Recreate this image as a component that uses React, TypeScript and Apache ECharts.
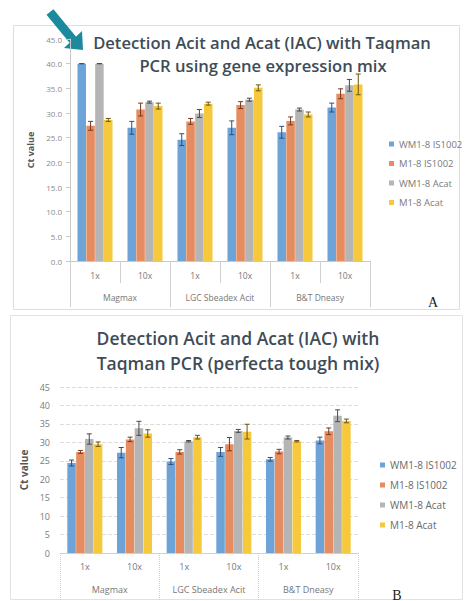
import React, { useEffect, useRef } from "react";
import * as echarts from "echarts";

const cats = ["1x", "10x", "1x", "10x", "1x", "10x"];
const groups = ["Magmax", "LGC Sbeadex Acit", "B&T Dneasy"];
const seriesNames = ["WM1-8 IS1002", "M1-8 IS1002", "WM1-8 Acat", "M1-8 Acat"];
const colors = ["#6ea3d8", "#e58c60", "#b5b5b5", "#f6c83c"];
const errColors = ["#2d4f7a", "#7a3a1c", "#4a4a4a", "#6e5410"];

const aTicks = [0, 5, 10, 15, 20, 25, 30, 35, 40, 45];
const bTicks = [0, 5, 10, 15, 20, 25, 30, 35, 40, 45];

// Chart A: gene expression mix
const aBlue = [40.0, 27.0, 24.6, 27.0, 26.1, 31.1];
const aBlueErr = [0, 1.3, 1.2, 1.4, 1.2, 0.9];
const aOrange = [27.4, 30.7, 28.3, 31.6, 28.4, 33.9];
const aOrangeErr = [0.9, 1.3, 0.6, 0.7, 0.8, 1.0];
const aGray = [40.0, 32.2, 29.9, 32.7, 30.7, 35.6];
const aGrayErr = [0, 0.2, 0.8, 0.3, 0.3, 1.2];
const aYellow = [28.6, 31.4, 31.9, 35.1, 29.7, 35.8];
const aYellowErr = [0.3, 0.6, 0.3, 0.6, 0.5, 2.1];

// Chart B: perfecta tough mix
const bBlue = [24.4, 27.2, 24.8, 27.4, 25.4, 30.5];
const bBlueErr = [0.8, 1.4, 0.8, 1.2, 0.5, 0.9];
const bOrange = [27.4, 30.8, 27.4, 29.5, 27.5, 33.0];
const bOrangeErr = [0.4, 0.6, 0.6, 1.8, 0.6, 0.9];
const bGray = [30.9, 33.8, 30.3, 33.1, 31.3, 37.2];
const bGrayErr = [1.4, 1.9, 0.2, 0.4, 0.4, 1.6];
const bYellow = [29.5, 32.4, 31.4, 32.9, 30.3, 35.8];
const bYellowErr = [0.6, 1.0, 0.5, 2.0, 0.2, 0.5];

const BAR_W = 8.5;
const BAR_GAP = 0.04;
const STEP = BAR_W * (1 + BAR_GAP);
const FONT = "'Open Sans', 'Noto Sans', sans-serif";

function barSeries(k: number, vals: number[], xIdx: number, yIdx: number) {
  return {
    type: "bar",
    name: seriesNames[k],
    xAxisIndex: xIdx,
    yAxisIndex: yIdx,
    data: vals,
    barWidth: BAR_W,
    barGap: BAR_GAP * 100 + "%",
    itemStyle: { color: colors[k] },
    silent: true,
  };
}

function errSeries(k: number, vals: number[], errs: number[], xIdx: number, yIdx: number, tag: string) {
  return {
    type: "custom",
    name: "err" + tag + k,
    xAxisIndex: xIdx,
    yAxisIndex: yIdx,
    z: 10,
    silent: true,
    encode: { x: 0, y: 1 },
    data: vals.map((v, i) => [i, v, errs[i]]),
    renderItem: (params: any, api: any) => {
      const i = api.value(0);
      const v = api.value(1);
      const e = api.value(2);
      const top = api.coord([i, v + e]);
      const bot = api.coord([i, v - e]);
      const x = top[0] + (k - 1.5) * STEP;
      const st = { stroke: errColors[k], lineWidth: 1 };
      return {
        type: "group",
        children: [
          { type: "line", shape: { x1: x, y1: top[1], x2: x, y2: bot[1] }, style: st },
          { type: "line", shape: { x1: x - 2.5, y1: top[1], x2: x + 2.5, y2: top[1] }, style: st },
          { type: "line", shape: { x1: x - 2.5, y1: bot[1], x2: x + 2.5, y2: bot[1] }, style: st },
        ],
      };
    },
  };
}

export default function App() {
  const ref = useRef<HTMLDivElement>(null);
  useEffect(() => {
    if (!ref.current) return;
    const chart = echarts.init(ref.current, undefined, { renderer: "svg" });
    const aSets = [
      [aBlue, aBlueErr],
      [aOrange, aOrangeErr],
      [aGray, aGrayErr],
      [aYellow, aYellowErr],
    ];
    const bSets = [
      [bBlue, bBlueErr],
      [bOrange, bOrangeErr],
      [bGray, bGrayErr],
      [bYellow, bYellowErr],
    ];
    const series: any[] = [];
    aSets.forEach((s, k) => series.push(barSeries(k, s[0], 0, 0)));
    bSets.forEach((s, k) => series.push(barSeries(k, s[0], 2, 1)));
    aSets.forEach((s, k) => series.push(errSeries(k, s[0], s[1], 0, 0, "A")));
    bSets.forEach((s, k) => series.push(errSeries(k, s[0], s[1], 2, 1, "B")));

    const option: any = {
      animation: false,
      backgroundColor: "#ffffff",
      textStyle: { fontFamily: FONT },
      grid: [
        { left: 70, top: 39, width: 300, height: 222, outerBoundsMode: "none", containLabel: false },
        { left: 60, top: 387, width: 298, height: 166, outerBoundsMode: "none", containLabel: false },
      ],
      legend: [
        {
          data: seriesNames,
          orient: "vertical",
          left: 384,
          top: 133,
          itemWidth: 5,
          itemHeight: 5,
          itemGap: 7.5,
          icon: "rect",
          selectedMode: false,
          textStyle: { fontSize: 9.5, color: "#7a7a7a", lineHeight: 12, fontFamily: FONT },
        },
        {
          data: seriesNames,
          orient: "vertical",
          left: 375,
          top: 454,
          itemWidth: 5,
          itemHeight: 5,
          itemGap: 8,
          icon: "rect",
          selectedMode: false,
          textStyle: { fontSize: 10, color: "#6a6a6a", lineHeight: 12, fontFamily: FONT },
        },
      ],
      xAxis: [
        {
          type: "category",
          gridIndex: 0,
          data: cats,
          position: "bottom",
          axisLine: { onZero: false, lineStyle: { color: "#c8c8c8" } },
          axisTick: { show: true, length: 22, lineStyle: { color: "#d0d0d0" } },
          axisLabel: { margin: 10, fontSize: 8.5, color: "#777", interval: 0 },
        },
        {
          type: "category",
          gridIndex: 0,
          data: groups,
          position: "bottom",
          axisLine: { show: false, onZero: false },
          axisTick: { show: true, length: 46, lineStyle: { color: "#d0d0d0" } },
          axisLabel: { margin: 32, fontSize: 8.5, color: "#777", interval: 0 },
        },
        {
          type: "category",
          gridIndex: 1,
          data: cats,
          position: "bottom",
          axisLine: { onZero: false, lineStyle: { color: "#d0d0d0" } },
          axisTick: { show: false },
          axisLabel: { margin: 9, fontSize: 9, color: "#777", interval: 0 },
        },
        {
          type: "category",
          gridIndex: 1,
          data: groups,
          position: "bottom",
          axisLine: { show: false, onZero: false },
          axisTick: { show: true, length: 47, lineStyle: { color: "#cfcfcf", type: "dotted" } },
          axisLabel: { margin: 32, fontSize: 9, color: "#777", interval: 0 },
        },
      ],
      yAxis: [
        {
          type: "value",
          gridIndex: 0,
          min: aTicks[0],
          max: aTicks[aTicks.length - 1],
          interval: 5,
          name: "Ct value",
          nameLocation: "middle",
          nameGap: 34,
          nameTextStyle: { fontSize: 9, fontWeight: "bold", color: "#555" },
          axisLine: { show: true, lineStyle: { color: "#c8c8c8" } },
          axisTick: { show: true, length: 4, lineStyle: { color: "#c8c8c8" } },
          axisLabel: { fontSize: 8, color: "#8a8a8a", margin: 8, formatter: (v: number) => v.toFixed(1) },
          splitLine: { show: false },
        },
        {
          type: "value",
          gridIndex: 1,
          min: bTicks[0],
          max: bTicks[bTicks.length - 1],
          interval: 5,
          name: "Ct value",
          nameLocation: "middle",
          nameGap: 27,
          nameTextStyle: { fontSize: 10, fontWeight: "bold", color: "#555" },
          axisLine: { show: false },
          axisTick: { show: false },
          axisLabel: { fontSize: 9, color: "#7a7a7a", margin: 10 },
          splitLine: { show: true, lineStyle: { color: "#dcdcdc", type: "dashed" } },
        },
      ],
      graphic: [
        { type: "rect", shape: { x: 13.5, y: 25.5, width: 446, height: 284 }, style: { fill: "none", stroke: "#dedede", lineWidth: 1 }, silent: true },
        { type: "rect", shape: { x: 10.5, y: 315.5, width: 452, height: 284 }, style: { fill: "none", stroke: "#e2e2e2", lineWidth: 1 }, silent: true },
        { type: "text", x: 262, y: 42, style: { text: "Detection Acit and Acat (IAC) with Taqman", textAlign: "center", textVerticalAlign: "middle", fontSize: 16.6, fontWeight: 600, fontFamily: FONT, fill: "#3e4c58" }, silent: true },
        { type: "text", x: 263, y: 65, style: { text: "PCR using gene expression mix", textAlign: "center", textVerticalAlign: "middle", fontSize: 16.6, fontWeight: 600, fontFamily: FONT, fill: "#3e4c58" }, silent: true },
        { type: "text", x: 238, y: 338, style: { text: "Detection Acit and Acat (IAC) with", textAlign: "center", textVerticalAlign: "middle", fontSize: 17.5, fontWeight: 600, fontFamily: FONT, fill: "#3e4c58" }, silent: true },
        { type: "text", x: 238, y: 363, style: { text: "Taqman PCR (perfecta tough mix)", textAlign: "center", textVerticalAlign: "middle", fontSize: 17.5, fontWeight: 600, fontFamily: FONT, fill: "#3e4c58" }, silent: true },
        { type: "line", shape: { x1: 50, y1: 12, x2: 73, y2: 40 }, style: { stroke: "#1b8a9c", lineWidth: 9 }, silent: true },
        { type: "polygon", shape: { points: [[83, 50], [82, 31], [64, 48]] }, style: { fill: "#1b8a9c" }, silent: true },
        { type: "text", x: 433, y: 302, style: { text: "A", textAlign: "center", textVerticalAlign: "middle", fontSize: 14, fontFamily: "'Liberation Serif', serif", fill: "#222" }, silent: true },
        { type: "text", x: 397, y: 595, style: { text: "B", textAlign: "center", textVerticalAlign: "middle", fontSize: 14, fontFamily: "'Liberation Serif', serif", fill: "#222" }, silent: true },
      ],
      series,
    };
    chart.setOption(option);
    return () => chart.dispose();
  }, []);
  return (
    <div
      ref={ref}
      style={{ position: "fixed", left: 0, top: 0, width: 466, height: 601, background: "#fff" }}
    />
  );
}
